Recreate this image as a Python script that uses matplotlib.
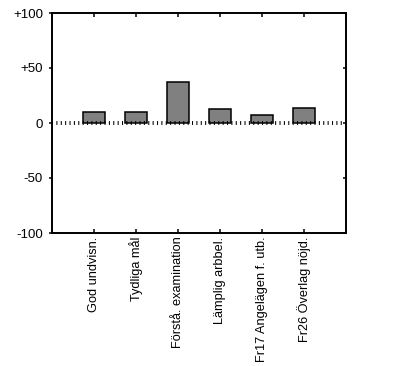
import numpy as np
import matplotlib
matplotlib.use("Agg")
import matplotlib.pyplot as plt

plt.rcParams['font.family'] = ['Liberation Sans', 'DejaVu Sans']
plt.rcParams['lines.scale_dashes'] = False

kategorier = ["God undvisn.", "Tydliga mål", "Förstå. examination",
              "Lämplig arbbel.", "Fr17 Angelägen f. utb.", "Fr26 Överlag nöjd."]
varden = [9.7, 9.7, 37, 13, 7.6, 14]
yticks = [-100, -50, 0, 50, 100]
ytick_text = ["-100", "-50", "0", "+50", "+100"]

fig = plt.figure(figsize=(3.95, 3.66), dpi=100)
ax = fig.add_axes([52/395, 1-233/366, 294/395, 220/366])

x = np.arange(1, len(varden) + 1)
ax.bar(x, varden, width=0.52, color="#808080", edgecolor="black", linewidth=1.1, zorder=2)
ax.axhline(0, color="black", lw=2.8, linestyle=(0, (0.75, 2.4)), zorder=3)

ax.set_xlim(0, len(varden) + 1)
ax.set_ylim(-100, 100)
ax.set_yticks(yticks)
ax.set_yticklabels(ytick_text, fontsize=9.5)
ax.set_xticks(x)
ax.set_xticklabels(kategorier, rotation=90, fontsize=9.2, va="top", ha="center")

for s in ax.spines.values():
    s.set_linewidth(1.4)
ax.tick_params(axis="y", left=True, right=True, direction="out", length=2.5, width=1.1, pad=4)
ax.tick_params(axis="x", bottom=True, top=True, direction="in", length=3, width=1.1, pad=2.5)
# höger y-ticks inåt
for t in ax.yaxis.get_major_ticks():
    t.tick2line.set_marker(matplotlib.lines.TICKLEFT)

fig.savefig("out.png", dpi=100)
